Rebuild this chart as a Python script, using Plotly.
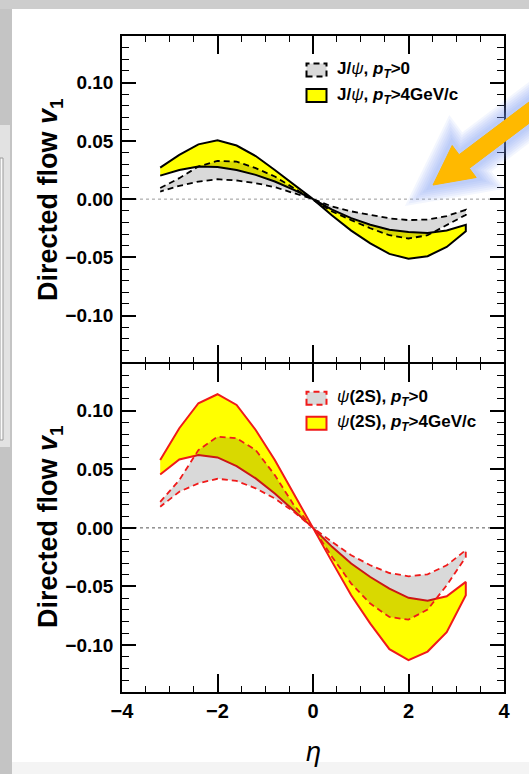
import plotly.graph_objects as go

# pseudorapidity sampling points shared by all bands
eta = [-3.2, -2.8, -2.4, -2.0, -1.6, -1.2, -0.8, -0.4, 0.0,
       0.4, 0.8, 1.2, 1.6, 2.0, 2.4, 2.8, 3.2]

# J/psi directed flow bands
jpsi_hpt_outer = [0.027, 0.038, 0.047, 0.0505, 0.046, 0.037, 0.025, 0.0125, 0.0,
                  -0.014, -0.027, -0.038, -0.047, -0.0512, -0.049, -0.041, -0.0275]
jpsi_hpt_inner = [0.0202, 0.025, 0.028, 0.0275, 0.025, 0.0208, 0.0151, 0.008, 0.0,
                  -0.009, -0.0163, -0.022, -0.0263, -0.0283, -0.029, -0.027, -0.022]
jpsi_all_outer = [0.0095, 0.018, 0.028, 0.0328, 0.0322, 0.0266, 0.0194, 0.0094, 0.0,
                  -0.0106, -0.018, -0.025, -0.031, -0.0338, -0.031, -0.022, -0.0135]
jpsi_all_inner = [0.0065, 0.0114, 0.0151, 0.0171, 0.016, 0.0137, 0.0103, 0.0051, 0.0,
                  -0.0063, -0.0105, -0.0135, -0.0165, -0.018, -0.0175, -0.0145, -0.0092]

# psi(2S) directed flow bands
psi2s_hpt_outer = [0.0579, 0.085, 0.1063, 0.114, 0.1049, 0.0835, 0.0579, 0.0294, 0.0,
                   -0.029, -0.0575, -0.0817, -0.1035, -0.1128, -0.1055, -0.0889, -0.0575]
psi2s_hpt_inner = [0.0456, 0.0584, 0.0621, 0.0601, 0.0527, 0.0422, 0.0294, 0.0151, 0.0,
                   -0.0162, -0.0304, -0.0419, -0.0518, -0.0597, -0.0621, -0.0584, -0.0461]
psi2s_all_outer = [0.0222, 0.0408, 0.0664, 0.0778, 0.0764, 0.0664, 0.045, 0.0194, 0.0,
                   -0.0248, -0.0475, -0.0646, -0.076, -0.0783, -0.0697, -0.049, -0.0248]
psi2s_all_inner = [0.018, 0.0308, 0.038, 0.0419, 0.04, 0.0337, 0.0251, 0.0137, 0.0,
                   -0.012, -0.0233, -0.0319, -0.0385, -0.0413, -0.0396, -0.0319, -0.019]

labels_top = ["<b>J/</b><i>ψ</i><b>, <i>p<sub>T</sub></i>&gt;0</b>",
              "<b>J/</b><i>ψ</i><b>, <i>p<sub>T</sub></i>&gt;4GeV/c</b>"]
labels_bot = ["<i>ψ</i><b>(2S), <i>p<sub>T</sub></i>&gt;0</b>",
              "<i>ψ</i><b>(2S), <i>p<sub>T</sub></i>&gt;4GeV/c</b>"]

W, H = 529, 774
FONT = "Liberation Sans, Arial, sans-serif"
RED = "#f01a1a"
YELLOW = "#ffff00"
SHADE = "rgba(0,0,0,0.15)"   # grey band; darkens yellow where the bands overlap
DASH = "6px,4px"
FRAME_W = 1.5


def band(upper, lower):
    """Closed polygon between two curves."""
    return eta + eta[::-1], upper + lower[::-1]


fig = go.Figure()


def add_panel(xa, ya, hi_o, hi_i, all_o, all_i, color, labels):
    bx, by = band(hi_o, hi_i)
    fig.add_trace(go.Scatter(
        x=bx, y=by, xaxis=xa, yaxis=ya, mode="lines", fill="toself",
        fillcolor=YELLOW, line=dict(color=color, width=2),
        name=labels[1], showlegend=False, hoverinfo="skip"))
    gx, gy = band(all_o, all_i)
    fig.add_trace(go.Scatter(
        x=gx, y=gy, xaxis=xa, yaxis=ya, mode="lines", fill="toself",
        fillcolor=SHADE, line=dict(color=color, width=1.8, dash=DASH),
        name=labels[0], showlegend=False, hoverinfo="skip"))


add_panel("x", "y", jpsi_hpt_outer, jpsi_hpt_inner,
          jpsi_all_outer, jpsi_all_inner, "black", labels_top)
add_panel("x2", "y2", psi2s_hpt_outer, psi2s_hpt_inner,
          psi2s_all_outer, psi2s_all_inner, RED, labels_bot)

# the two panels share one border line: offset so the axis lines overlap
half = FRAME_W / 2
xdom = [122 / W, 504 / W]
ydom_top = [1 - (363 - half) / H, 1 - 36 / H]
ydom_bot = [1 - 692 / H, 1 - (363 + half) / H]

xcommon = dict(range=[-4, 4], tick0=0, dtick=2, ticks="inside", ticklen=18,
               tickwidth=1.5, tickcolor="black", mirror="allticks", showline=True,
               linecolor="black", linewidth=FRAME_W, showgrid=False, zeroline=False,
               domain=xdom, automargin=False,
               tickfont=dict(family=FONT, size=20, color="black", weight="bold"),
               minor=dict(tick0=0, dtick=0.5, ticks="inside", ticklen=6,
                          tickwidth=1.2, tickcolor="black", showgrid=False))
ycommon = dict(range=[-0.14, 0.14], tick0=0, dtick=0.05, tickformat=".2f",
               ticks="inside", ticklen=14, tickwidth=1.5, tickcolor="black",
               mirror="allticks", showline=True, linecolor="black", linewidth=FRAME_W,
               showgrid=False, zeroline=False, ticklabelstandoff=3, automargin=False,
               tickfont=dict(family=FONT, size=19, color="black", weight="bold"),
               minor=dict(tick0=0, dtick=0.01, ticks="inside", ticklen=7,
                          tickwidth=1.2, tickcolor="black", showgrid=False))

fig.update_layout(
    template="none", autosize=False,
    width=W, height=H, margin=dict(l=0, r=0, t=0, b=0, pad=0),
    paper_bgcolor="white", plot_bgcolor="white", showlegend=False,
    xaxis=dict(xcommon, anchor="y", showticklabels=False, matches="x2"),
    yaxis=dict(ycommon, anchor="x", domain=ydom_top),
    xaxis2=dict(xcommon, anchor="y2"),
    yaxis2=dict(ycommon, anchor="x2", domain=ydom_bot),
)

# dotted zero reference lines
for xr, yr, col in (("x", "y", "#9a9a9a"), ("x2", "y2", "#555555")):
    fig.add_shape(type="line", xref=xr, yref=yr, x0=-4, x1=4, y0=0, y1=0,
                  line=dict(color=col, width=1, dash="dot"), layer="below")


def px(x):
    return x / W


def py(y):
    return 1 - y / H


# legend boxes and labels for each panel
legend_rows = (
    (labels_top, "black", (70, 95.5)),
    (labels_bot, RED, (398.3, 423.3)),
)
for labels, col, rows in legend_rows:
    styles = ((SHADE, DASH), (YELLOW, "solid"))
    for (fillc, dash), yc, lab in zip(styles, rows, labels):
        fig.add_shape(type="rect", xref="paper", yref="paper",
                      x0=px(306.5), x1=px(326.5), y0=py(yc + 6.5), y1=py(yc - 6.5),
                      fillcolor=fillc, line=dict(color=col, width=2, dash=dash),
                      layer="above")
        fig.add_annotation(x=px(335), y=py(yc), xref="paper", yref="paper",
                           text=lab, showarrow=False, xanchor="left",
                           yanchor="middle",
                           font=dict(family=FONT, size=17, color="black"))

# axis titles
for yc in (200, 527):
    fig.add_annotation(x=px(50), y=py(yc), xref="paper", yref="paper",
                       text="<b>Directed flow <i>v</i><sub>1</sub></b>", textangle=-90,
                       showarrow=False, xanchor="center", yanchor="middle",
                       font=dict(family=FONT, size=27, color="black"))
fig.add_annotation(x=px(313), y=py(752), xref="paper", yref="paper",
                   text="<i>η</i>", showarrow=False, xanchor="center", yanchor="middle",
                   font=dict(family=FONT, size=27, color="black"))


def P(x, y):
    return f"{px(x):.5f},{py(y):.5f}"


# window frame around the page
fig.add_shape(type="rect", xref="paper", yref="paper", x0=0, x1=px(12), y0=0, y1=1,
              fillcolor="#c4c4c4", line_width=0, layer="below")
fig.add_shape(type="rect", xref="paper", yref="paper", x0=0, x1=px(10),
              y0=py(447), y1=py(125), fillcolor="#e2e2e2", line_width=0,
              layer="below")
fig.add_shape(type="rect", xref="paper", yref="paper", x0=0, x1=px(3),
              y0=py(440), y1=py(158), fillcolor="#fafafa",
              line=dict(color="#9a9a9a", width=1), layer="below")
fig.add_shape(type="rect", xref="paper", yref="paper", x0=0, x1=1,
              y0=py(9), y1=1, fillcolor="#cdcdcd", line_width=0, layer="below")
fig.add_shape(type="rect", xref="paper", yref="paper", x0=px(12), x1=1,
              y0=0, y1=py(762), fillcolor="#f4f4f4", line_width=0, layer="below")

# highlighted arrow with a soft blue halo
arrow = ("M" + P(433, 185) + " L" + P(476.2, 177.5) + " L" + P(469.3, 168.3) +
         " L" + P(549.2, 108.1) + " L" + P(539, 94.5) + " L" + P(459.1, 154.7) +
         " L" + P(452.2, 145.5) + " Z")
for wdt in (32, 28, 24, 20, 16, 12, 8):
    fig.add_shape(type="path", xref="paper", yref="paper", path=arrow,
                  fillcolor="rgba(120,160,245,0.09)",
                  line=dict(color="rgba(120,160,245,0.09)", width=wdt), layer="above")
fig.add_shape(type="path", xref="paper", yref="paper", path=arrow,
              fillcolor="#ffb900", line=dict(color="#ffb900", width=1), layer="above")

fig.write_html("out.html")
